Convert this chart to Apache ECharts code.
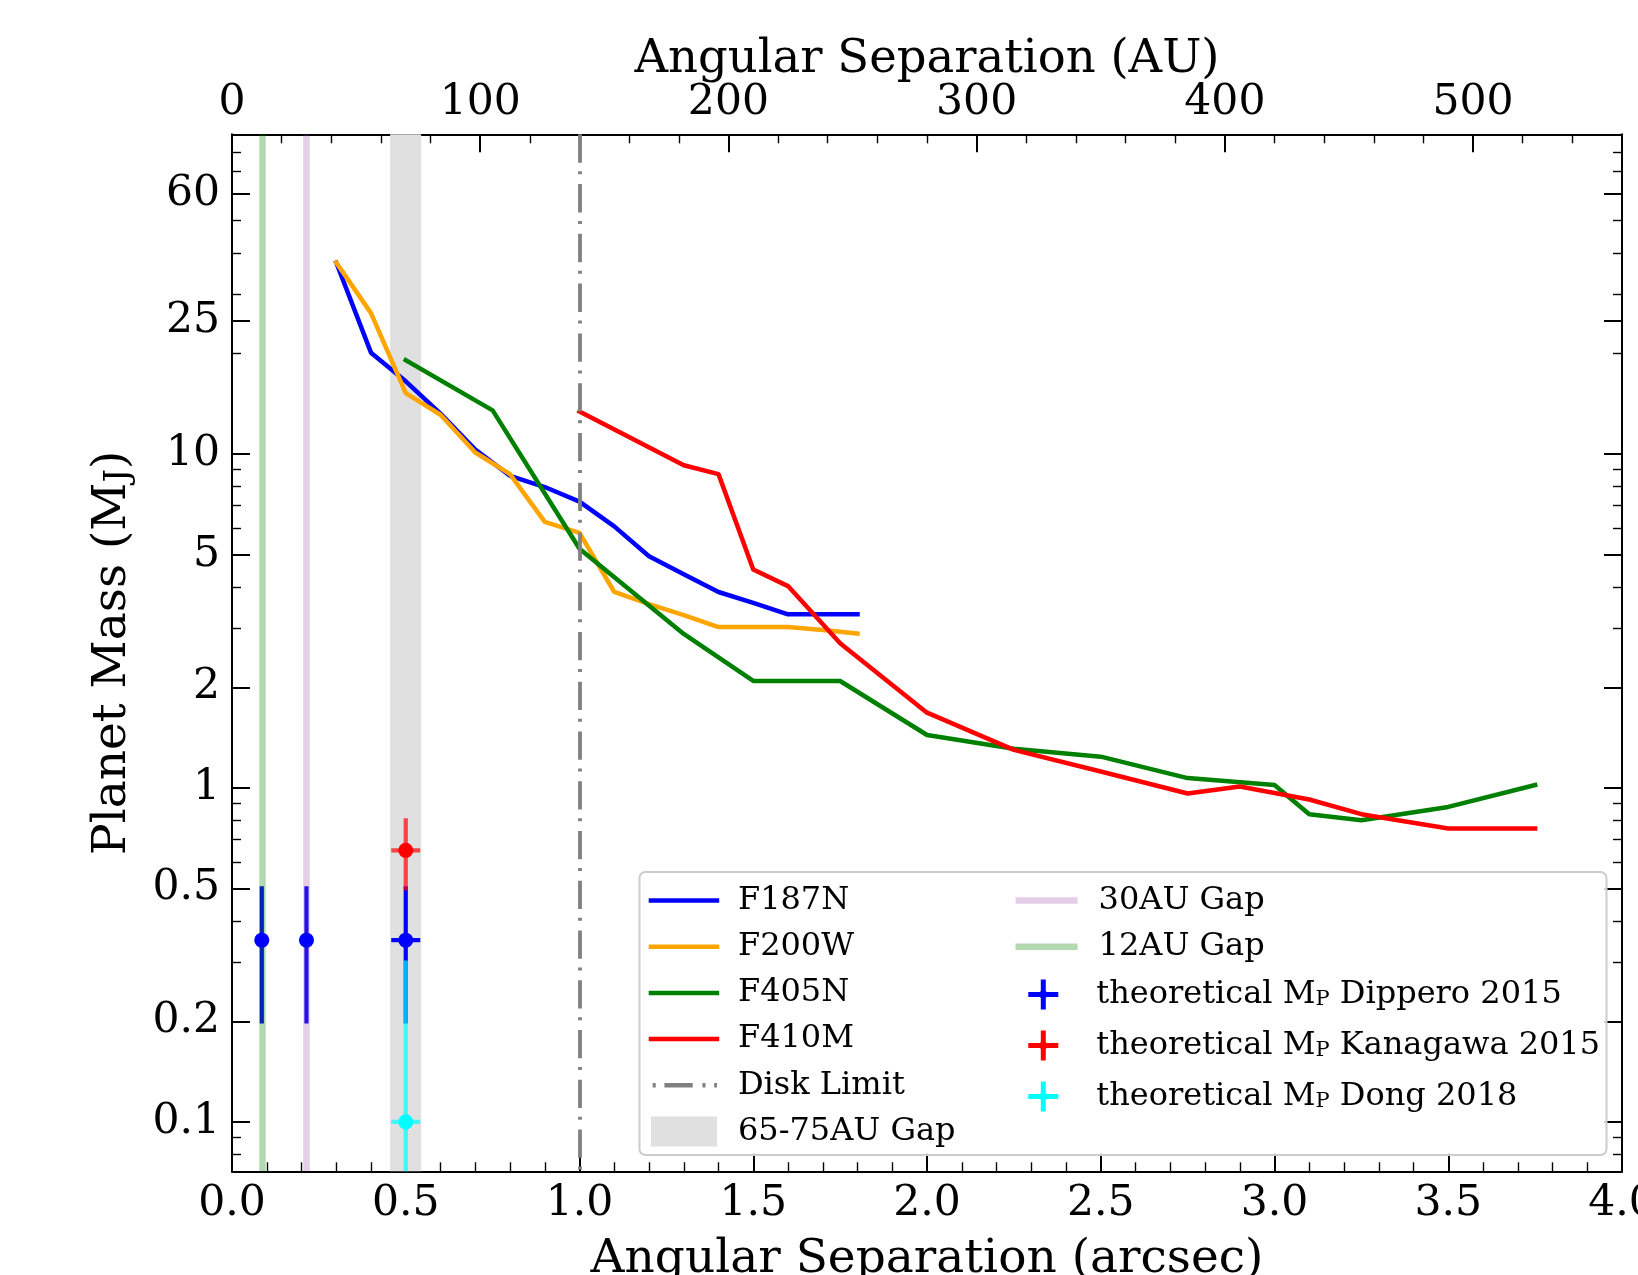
<!DOCTYPE html>
<html><head><meta charset="utf-8">
<script src="https://cdn.jsdelivr.net/npm/echarts@6/dist/echarts.min.js"></script>
<style>html,body{margin:0;padding:0;background:#fff}#c{width:1638px;height:1275px}</style>
</head><body><div id="c"></div>
<script>
// ---------------- data ----------------
const f187nX = [0.3,0.4,0.5,0.6,0.7,0.8,0.9,1.0,1.1,1.2,1.3,1.4,1.5,1.6,1.7,1.8];
const f187nY = [37.4,20.1,16.5,13.2,10.3,8.6,7.96,7.2,6.07,4.94,4.36,3.86,3.58,3.31,3.31,3.31];
const f200wX = [0.3,0.4,0.5,0.6,0.7,0.8,0.9,1.0,1.1,1.2,1.3,1.4,1.5,1.6,1.7,1.8];
const f200wY = [37.4,26.4,15.2,13.1,10.1,8.7,6.26,5.8,3.86,3.55,3.29,3.03,3.03,3.03,2.97,2.90];
const f405nX = [0.5,0.75,1.0,1.3,1.5,1.75,2.0,2.25,2.5,2.75,3.0,3.1,3.25,3.5,3.75];
const f405nY = [19.1,13.5,5.2,2.89,2.09,2.09,1.44,1.31,1.24,1.07,1.02,0.834,0.80,0.877,1.02];
const f410mX = [1.0,1.3,1.4,1.5,1.6,1.75,2.0,2.25,2.5,2.75,2.9,3.1,3.25,3.5,3.75];
const f410mY = [13.4,9.25,8.7,4.51,4.02,2.71,1.68,1.30,1.12,0.962,1.01,0.923,0.834,0.756,0.756];

// theoretical planet masses (separation in AU, mass, lower, upper, x-error in AU)
const dipperoAU = [12, 30, 70];
const dipperoM  = [0.35, 0.35, 0.35];
const dipperoLo = [0.2, 0.2, 0.2];
const dipperoHi = [0.5, 0.5, 0.5];
const dipperoXe = [0, 0, 5];
const kanagawaAU = [70];
const kanagawaM  = [0.65];
const kanagawaLo = [0.5];
const kanagawaHi = [0.8];
const kanagawaXe = [5];
const dongAU = [70];
const dongM  = [0.1];
const dongLo = [0.05];
const dongHi = [0.3];
const dongXe = [5];

const gap30AU = 30;
const gap12AU = 12;
const gapBandAU = [63.7, 76.2];
const diskLimitArcsec = 1.0;

// axes
const xMin = 0, xMax = 4, xInterval = 0.5;
const auMax = 560;
const auMajor = [0,100,200,300,400,500];
const auMinor = [20,40,60,80,120,140,160,180,220,240,260,280,320,340,360,380,420,440,460,480,520,540];
const yMin = 0.0711, yMax = 90.6;
const yMajor = [0.1,0.2,0.5,1,2,5,10,25,60];
const yMajorLabels = ['0.1','0.2','0.5','1','2','5','10','25','60'];
const yMinor = [0.08,0.09,0.3,0.4,0.6,0.7,0.8,0.9,3,4,6,7,8,9,20,30,40,50,70,80];

// ---------------- chart ----------------
const FONT = 'DejaVu Serif';
const lg = v => Math.log10(v);
const zip = (a, b) => a.map((v, i) => [v, b[i]]);
const rows = (x, m, lo, hi, xe) => x.map((v, i) => [v, m[i], lo[i], hi[i], xe[i]]);

const BLUE = '#0000ff', ORANGE = '#ffa500', GREEN = '#008000', RED = '#ff0000', CYAN = '#00ffff';
const PLUM = 'rgba(150,60,160,0.25)', LGREEN = 'rgba(0,128,0,0.3)', BAND = '#e0e0e0', GRAY = '#808080';
const diskDash = [28.3, 9.76, 3, 8.7];
const LW = 4.5;

const axLine = {color: '#000', width: 2};
const majTick = {color: '#000', width: 2};
const minTick = {color: '#000', width: 1.4};
const tickFont = {fontFamily: FONT, fontSize: 42.5, color: '#000'};
const nameFont = {fontFamily: FONT, fontSize: 47, color: '#000'};

const names = {
  d: 'theoretical M_P Dippero 2015',
  k: 'theoretical M_P Kanagawa 2015',
  g: 'theoretical M_P Dong 2018'
};

function errRender(color, opacity) {
  return function (params, api) {
    const x = api.value(0), y = api.value(1), lo = api.value(2), hi = api.value(3), xe = api.value(4);
    const a = api.coord([x, lo]), b = api.coord([x, hi]);
    const st = {stroke: color, lineWidth: 4.2, lineCap: 'square', opacity: opacity};
    const ch = [{type: 'line', shape: {x1: a[0], y1: a[1], x2: b[0], y2: b[1]}, style: st}];
    if (xe > 0) {
      const c = api.coord([x - xe, y]), d = api.coord([x + xe, y]);
      ch.push({type: 'line', shape: {x1: c[0], y1: c[1], x2: d[0], y2: d[1]}, style: st});
    }
    return {type: 'group', children: ch};
  };
}

function lineSeries(name, x, y, color) {
  return {type: 'line', name, xAxisIndex: 0, yAxisIndex: 0, data: zip(x, y), symbol: 'none', showSymbol: false,
    lineStyle: {color, width: LW, cap: 'square', join: 'round'}, itemStyle: {color}, z: 3, clip: true};
}
function vline(name, axisIdx, value, color, width, type, z) {
  return {type: 'line', name, xAxisIndex: axisIdx, yAxisIndex: 0, data: [], symbol: 'none',
    lineStyle: {color, width, type}, itemStyle: {color}, z,
    markLine: {silent: true, symbol: ['none', 'none'], label: {show: false},
      lineStyle: {color, width, type, dashOffset: 36.3}, emphasis: {disabled: true},
      data: [{xAxis: value}]}};
}
function errSeries(name, x, m, lo, hi, xe, color, op) {
  return {type: 'custom', name, xAxisIndex: 1, yAxisIndex: 0, data: rows(x, m, lo, hi, xe),
    renderItem: errRender(color, op), itemStyle: {color}, z: 4, clip: true, encode: {x: 0, y: 1}};
}
function markerSeries(name, x, m, color) {
  return {type: 'scatter', name, xAxisIndex: 1, yAxisIndex: 0, data: zip(x, m), symbol: 'circle',
    symbolSize: 15, itemStyle: {color, opacity: 1}, z: 6};
}

const PLUS = 'path://M12.5,0H17.5V12.5H30V17.5H17.5V30H12.5V17.5H0V12.5H12.5ZM11,15A4,4 0 1,1 19,15A4,4 0 1,1 11,15Z';
const legText = {fontFamily: FONT, fontSize: 32, lineHeight: 32, color: '#000',
  rich: {
    sp: {width: 16, fontSize: 32, lineHeight: 32},
    sub: {fontFamily: FONT, fontSize: 21, lineHeight: 21, verticalAlign: 'bottom', color: '#000'}}};
const legFmt = n => '{sp| }' + n.replace('M_P', 'M{sub|P}');

function yDeco(position, showLabel, major) {
  const vals = (major ? yMajor : yMinor).map(lg);
  return {type: 'value', min: lg(yMin), max: lg(yMax), position, gridIndex: 0,
    axisLine: {show: major, onZero: false, lineStyle: axLine},
    axisTick: {show: true, inside: true, length: major ? 18 : 9, customValues: vals, lineStyle: major ? majTick : minTick},
    minorTick: {show: false}, splitLine: {show: false},
    axisLabel: showLabel ? Object.assign({show: true, customValues: vals, margin: 12,
      formatter: v => { const i = yMajor.findIndex(t => Math.abs(lg(t) - v) < 1e-6); return i >= 0 ? yMajorLabels[i] : ''; }}, tickFont)
      : {show: false}};
}

const option = {
  animation: false,
  backgroundColor: '#fff',
  textStyle: {fontFamily: FONT},
  grid: {left: 232, top: 134.3, width: 1390, height: 1037, containLabel: false, outerBoundsMode: 'none'},
  xAxis: [
    {type: 'value', min: xMin, max: xMax, interval: xInterval, position: 'bottom',
      axisLine: {onZero: false, lineStyle: axLine},
      axisTick: {inside: true, length: 18, lineStyle: majTick},
      minorTick: {show: true, splitNumber: 5, length: 9, lineStyle: minTick},
      splitLine: {show: false}, minorSplitLine: {show: false},
      axisLabel: Object.assign({formatter: v => v.toFixed(1), margin: 11}, tickFont),
      name: 'Angular Separation (arcsec)', nameLocation: 'middle', nameGap: 65, nameTextStyle: nameFont},
    {type: 'value', min: 0, max: auMax, position: 'top',
      axisLine: {onZero: false, lineStyle: axLine},
      axisTick: {inside: true, length: 18, customValues: auMajor, lineStyle: majTick},
      splitLine: {show: false},
      axisLabel: Object.assign({customValues: auMajor, margin: 10}, tickFont),
      name: 'Angular Separation (AU)', nameLocation: 'middle', nameGap: 51, nameMoveOverlap: false,
      nameTextStyle: Object.assign({}, nameFont, {fontSize: 46.5})},
    {type: 'value', min: 0, max: auMax, position: 'top',
      axisLine: {show: false, onZero: false},
      axisTick: {inside: true, length: 9, customValues: auMinor, lineStyle: minTick},
      splitLine: {show: false}, axisLabel: {show: false}}
  ],
  yAxis: [
    {type: 'log', logBase: 10, min: yMin, max: yMax, position: 'left',
      axisLine: {show: false, onZero: false}, axisTick: {show: false}, axisLabel: {show: false},
      splitLine: {show: false}, minorTick: {show: false}, minorSplitLine: {show: false}},
    Object.assign(yDeco('left', true, true), {
      name: 'Planet Mass (M{sub|J})', nameLocation: 'middle', nameGap: 96, nameRotate: 90,
      nameTextStyle: Object.assign({lineHeight: 47, rich: {sub: {fontFamily: FONT, fontSize: 34, lineHeight: 34, verticalAlign: 'bottom', color: '#000'}}}, nameFont)}),
    yDeco('left', false, false),
    yDeco('right', false, true),
    yDeco('right', false, false)
  ],
  legend: [
    {orient: 'vertical', left: 648.7, top: 884.5, itemWidth: 66, itemHeight: 30, itemGap: 14.2,
      selectedMode: false, padding: 0, z: 12, textStyle: legText, formatter: legFmt,
      lineStyle: {width: LW}, itemStyle: {opacity: 0},
      data: ['F187N', 'F200W', 'F405N', 'F410M', 'Disk Limit',
        {name: '65-75AU Gap', icon: 'rect', itemStyle: {color: BAND, opacity: 1}}]},
    {orient: 'vertical', left: 1012.3, top: 884.5, itemWidth: 62, itemHeight: 30, itemGap: 14.2,
      selectedMode: false, padding: 0, z: 12, textStyle: legText, formatter: legFmt,
      lineStyle: {width: 6.5}, itemStyle: {opacity: 0},
      data: ['30AU Gap', '12AU Gap']},
    {orient: 'vertical', left: 1028.3, top: 978.5, itemWidth: 30, itemHeight: 30, itemGap: 19,
      selectedMode: false, padding: 0, z: 12, formatter: n => '{sp| }' + n.replace('M_P', 'M{sub|P}'),
      textStyle: Object.assign({}, legText, {rich: Object.assign({}, legText.rich, {sp: {width: 33, fontSize: 32, lineHeight: 32}})}),
      data: [
        {name: names.d, icon: PLUS, itemStyle: {color: BLUE}},
        {name: names.k, icon: PLUS, itemStyle: {color: RED}},
        {name: names.g, icon: PLUS, itemStyle: {color: CYAN}}]}
  ],
  graphic: [{type: 'rect', z: 11, shape: {x: 639.5, y: 872, width: 967, height: 283, r: 6},
    style: {fill: 'rgba(255,255,255,0.8)', stroke: '#cccccc', lineWidth: 2}}],
  series: [
    {type: 'line', name: '65-75AU Gap', xAxisIndex: 1, yAxisIndex: 0, data: [], symbol: 'none',
      itemStyle: {color: BAND}, lineStyle: {color: BAND}, z: 1,
      markArea: {silent: true, itemStyle: {color: BAND}, label: {show: false},
        data: [[{xAxis: gapBandAU[0]}, {xAxis: gapBandAU[1]}]]}},
    lineSeries('F187N', f187nX, f187nY, BLUE),
    lineSeries('F200W', f200wX, f200wY, ORANGE),
    lineSeries('F405N', f405nX, f405nY, GREEN),
    lineSeries('F410M', f410mX, f410mY, RED),
    vline('Disk Limit', 0, diskLimitArcsec, GRAY, 3.8, diskDash, 3),
    errSeries(names.d, dipperoAU, dipperoM, dipperoLo, dipperoHi, dipperoXe, BLUE, 1),
    errSeries(names.k, kanagawaAU, kanagawaM, kanagawaLo, kanagawaHi, kanagawaXe, RED, 0.7),
    errSeries(names.g, dongAU, dongM, dongLo, dongHi, dongXe, CYAN, 0.7),
    vline('30AU Gap', 1, gap30AU, PLUM, 6.5, 'solid', 5),
    vline('12AU Gap', 1, gap12AU, LGREEN, 6.5, 'solid', 5),
    markerSeries(names.d, dipperoAU, dipperoM, BLUE),
    markerSeries(names.k, kanagawaAU, kanagawaM, RED),
    markerSeries(names.g, dongAU, dongM, CYAN)
  ]
};
const chart = echarts.init(document.getElementById('c'));
chart.setOption(option);
</script>
</body></html>
